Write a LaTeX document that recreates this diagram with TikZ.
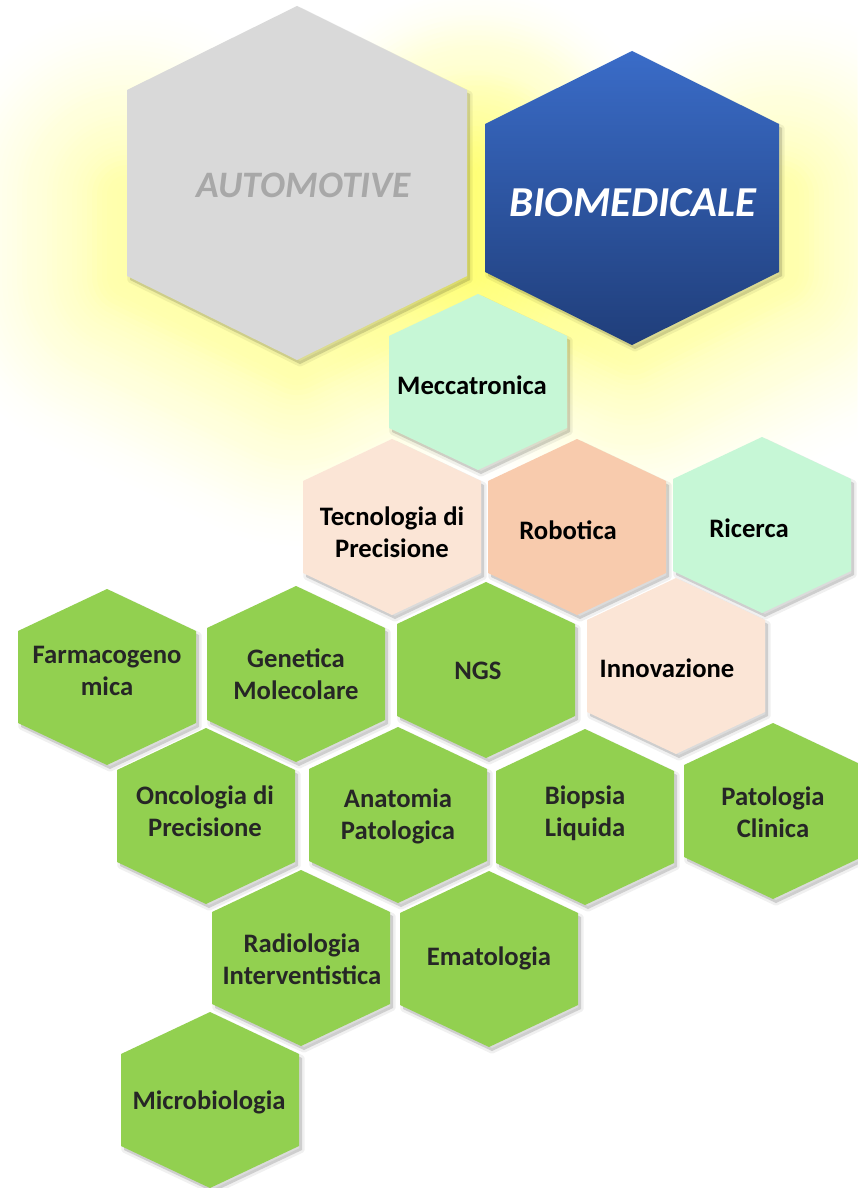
\documentclass[tikz,border=0pt]{standalone}
\usepackage{fontspec}
\setmainfont{Carlito}
\usetikzlibrary{calc}
\definecolor{autofill}{HTML}{D9D9D9}
\definecolor{biotop}{RGB}{58,108,200}
\definecolor{biobot}{RGB}{32,62,122}
\definecolor{mint}{HTML}{C6F7D6}
\definecolor{peachlight}{HTML}{FBE5D6}
\definecolor{peach}{HTML}{F8CBAD}
\definecolor{leaf}{HTML}{92D050}
\definecolor{glowc}{RGB}{255,255,100}
\definecolor{txtdark}{HTML}{262626}
\definecolor{autotext}{HTML}{A8A8A8}
\newcommand{\hx}[5]{({#1},{#2-#4}) -- ({#1+#3},{#2-#5}) -- ({#1+#3},{#2+#5}) -- ({#1},{#2+#4}) -- ({#1-#3},{#2+#5}) -- ({#1-#3},{#2-#5}) -- cycle}
\newcommand{\hexshadow}[5]{%
  \begin{scope}[shift={(3,4)}]
    \draw[black,opacity=0.06,line width=4pt,line join=round] \hx{#1}{#2}{#3}{#4}{#5};
    \fill[black,opacity=0.14] \hx{#1}{#2}{#3}{#4}{#5};
  \end{scope}}
\newcommand{\smallhex}[3]{\hexshadow{#1}{#2}{89}{88}{46}\fill[#3] \hx{#1}{#2}{89}{88}{46};}
\tikzset{
  lbl/.style={font=\bfseries\fontsize{20}{24}\selectfont, align=center, text=black, inner sep=0pt},
  glbl/.style={lbl, text=txtdark},
  biglbl/.style={font=\bfseries\itshape, inner sep=0pt},
  glowline/.style={glowc,line join=round,line cap=round}
}
\begin{document}
\begin{tikzpicture}[x=0.75pt,y=-0.75pt]
\useasboundingbox (0,0) rectangle (857,1188);
\fill[white] (0,0) rectangle (857,1188);
% soft glow around the two large hexagons
\foreach \k in {1,...,40}{
  \pgfmathsetmacro{\op}{(81-2*\k)/2600}
  \pgfmathsetmacro{\lw}{7.5*\k}
  \draw[glowline,opacity=\op,line width=\lw pt] (127,195) -- (127,277) -- (297,360) -- (467,277) -- (467,175);
  \draw[glowline,opacity=\op,line width=\lw pt] (485,175) -- (485,272) -- (632,345) -- (779,272) -- (779,195);
}
% large hexagons
\hexshadow{297}{183}{170}{177}{93}
\fill[autofill] \hx{297}{183}{170}{177}{93};
\hexshadow{632}{198}{147}{147}{74}
\shade[top color=biotop,bottom color=biobot] \hx{632}{198}{147}{147}{74};
% small hexagons
\smallhex{478}{382}{mint}
\smallhex{392}{527}{peachlight}
\smallhex{577}{527}{peach}
\smallhex{762}{525}{mint}
\smallhex{107}{677}{leaf}
\smallhex{296}{674}{leaf}
\smallhex{486}{670}{leaf}
\smallhex{676}{666}{peachlight}
\smallhex{206}{816}{leaf}
\smallhex{398}{815}{leaf}
\smallhex{585}{817}{leaf}
\smallhex{773}{811}{leaf}
\smallhex{301}{958}{leaf}
\smallhex{489}{959}{leaf}
\smallhex{210}{1100}{leaf}
% labels
\node[biglbl,text=autotext,font=\bfseries\itshape\fontsize{28}{32}\selectfont] (auto) at (304,185) {AUTOMOTIVE};
\node[biglbl,text=white,font=\bfseries\itshape\fontsize{32}{36}\selectfont] (bio) at (633,203) {BIOMEDICALE};
\node[lbl] (mecc) at (472,385) {Meccatronica};
\node[lbl] (tecn) at (392,532) {Tecnologia di\\Precisione};
\node[lbl] (robo) at (568,530) {Robotica};
\node[lbl] (ric) at (749,528) {Ricerca};
\node[glbl] (farm) at (107,671) {Farmacogeno\\mica};
\node[glbl] (gen) at (296,674) {Genetica\\Molecolare};
\node[glbl] (ngs) at (478,671) {NGS};
\node[lbl] (inno) at (667,668) {Innovazione};
\node[glbl] (onco) at (205,811) {Oncologia di\\Precisione};
\node[glbl] (anat) at (398,816) {Anatomia\\Patologica};
\node[glbl] (biop) at (585,813) {Biopsia\\Liquida};
\node[glbl] (patc) at (773,812) {Patologia\\Clinica};
\node[glbl] (radi) at (302,959) {Radiologia\\Interventistica};
\node[glbl] (emat) at (489,958) {Ematologia};
\node[glbl] (micr) at (209,1102) {Microbiologia};
\end{tikzpicture}
\end{document}
